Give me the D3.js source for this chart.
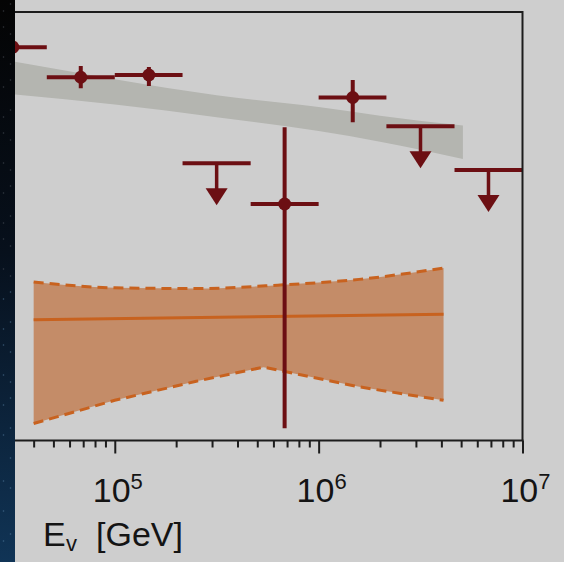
<!DOCTYPE html>
<html>
<head>
<meta charset="utf-8">
<script src="https://cdn.jsdelivr.net/npm/d3@7"></script>
<style>
  html, body { margin: 0; padding: 0; background: #cecece; overflow: hidden; }
  svg { display: block; }
</style>
</head>
<body>
<svg id="chart" width="564" height="562"></svg>
<script>
// Neutrino energy bins (GeV), one third of a decade wide
const binCenters = [3.16e4, 6.81e4, 1.47e5, 3.16e5, 6.81e5, 1.47e6, 3.16e6, 6.81e6];
const binLow     = [2.15e4, 4.64e4, 1.00e5, 2.15e5, 4.64e5, 1.00e6, 2.15e6, 4.64e6];
const binHigh    = [4.64e4, 1.00e5, 2.15e5, 4.64e5, 1.00e6, 2.15e6, 4.64e6, 1.00e7];

// Per-bin E^2 flux, with 1-sigma range; upper limits have no range
const fluxValues   = [6.85e-8, 4.96e-8, 5.08e-8, 1.97e-8, 1.27e-8, 3.99e-8, 2.93e-8, 1.83e-8];
const fluxErrHigh  = [null,    5.60e-8, 5.53e-8, null,    2.90e-8, 4.81e-8, null,    null];
const fluxErrLow   = [null,    4.41e-8, 4.51e-8, null,    1.14e-9, 3.06e-8, null,    null];
const isUpperLimit = [false,   false,   false,   true,    false,   false,   true,    true];

// Power-law best fit band (grey)
const fitEnergy = [3.16e4, 1.00e5, 3.16e5, 1.00e6, 2.00e6, 5.10e6];
const fitUpper  = [5.88e-8, 4.86e-8, 4.09e-8, 3.60e-8, 3.28e-8, 2.95e-8];
const fitLower  = [4.13e-8, 3.70e-8, 3.23e-8, 2.78e-8, 2.48e-8, 2.06e-8];

// Second flux model (orange): central line and uncertainty envelope
const modelCentralEnergy = [4.0e4, 4.1e6];
const modelCentral       = [3.66e-9, 3.88e-9];
const modelUpperEnergy   = [4.0e4, 1.00e5, 2.51e5, 6.31e5, 1.58e6, 4.1e6];
const modelUpper         = [5.49e-9, 5.16e-9, 5.12e-9, 5.31e-9, 5.65e-9, 6.38e-9];
const modelLowerEnergy   = [4.0e4, 1.00e5, 2.51e5, 5.37e5, 1.58e6, 4.1e6];
const modelLower         = [1.20e-9, 1.54e-9, 1.89e-9, 2.20e-9, 1.78e-9, 1.54e-9];

// Axis ticks
const majorTicks = [1e5, 1e6, 1e7];
const majorExponents = ["5", "6", "7"];
const minorTicks = [4e4, 5e4, 6e4, 7e4, 8e4, 9e4,
                    2e5, 3e5, 4e5, 5e5, 6e5, 7e5, 8e5, 9e5,
                    2e6, 3e6, 4e6, 5e6, 6e6, 7e6, 8e6, 9e6];

const axisTitle = { main: "E", sub: "v", unit: "[GeV]" };

// ---------------------------------------------------------------
const plot = { left: 15, right: 522.5, top: 12, bottom: 440.5 };
const colors = {
  point: "#6c0f13",
  fitBand: "#b4b5b0",
  modelFill: "#c48c68",
  modelLine: "#c8621f",
  frame: "#1c1c1c",
  text: "#141414"
};

const svg = d3.select("#chart");

const x = d3.scaleLog().domain([3.24e4, 1e7]).range([plot.left, plot.right]);
const y = d3.scaleLog().domain([1e-9, 1e-7]).range([plot.bottom, plot.top]);

const defs = svg.append("defs");
defs.append("clipPath").attr("id", "plot-clip")
  .append("rect")
  .attr("x", plot.left).attr("y", plot.top)
  .attr("width", plot.right - plot.left)
  .attr("height", plot.bottom - plot.top);

const grad = defs.append("linearGradient").attr("id", "space")
  .attr("x1", 0).attr("y1", 0).attr("x2", 0).attr("y2", 1);
grad.append("stop").attr("offset", "0%").attr("stop-color", "#040404");
grad.append("stop").attr("offset", "45%").attr("stop-color", "#07101c");
grad.append("stop").attr("offset", "100%").attr("stop-color", "#103456");

const g = svg.append("g").attr("clip-path", "url(#plot-clip)");

// Grey best-fit band
const fitPts = fitEnergy.map((e, i) => ({ e, hi: fitUpper[i], lo: fitLower[i] }));
g.append("path")
  .datum(fitPts)
  .attr("fill", colors.fitBand)
  .attr("d", d3.area().x(d => x(d.e)).y0(d => y(d.lo)).y1(d => y(d.hi)).curve(d3.curveMonotoneX));

// Orange model envelope
const upperPts = modelUpperEnergy.map((e, i) => [x(e), y(modelUpper[i])]);
const lowerPts = modelLowerEnergy.map((e, i) => [x(e), y(modelLower[i])]);
const upperLine = d3.line().curve(d3.curveMonotoneX);
const lowerLine = d3.line().curve(d3.curveLinear);
const envelope = upperLine(upperPts) + "L" + lowerLine(lowerPts.slice().reverse()).slice(1) + "Z";

g.append("path").attr("d", envelope).attr("fill", colors.modelFill);

g.append("path").attr("d", upperLine(upperPts))
  .attr("fill", "none").attr("stroke", colors.modelLine)
  .attr("stroke-width", 3).attr("stroke-dasharray", "10,6");
g.append("path").attr("d", lowerLine(lowerPts))
  .attr("fill", "none").attr("stroke", colors.modelLine)
  .attr("stroke-width", 3).attr("stroke-dasharray", "10,6");
g.append("path")
  .attr("d", d3.line()(modelCentralEnergy.map((e, i) => [x(e), y(modelCentral[i])])))
  .attr("fill", "none").attr("stroke", colors.modelLine).attr("stroke-width", 3);

// Data points
const points = binCenters.map((e, i) => ({
  e, lo: binLow[i], hi: binHigh[i], v: fluxValues[i],
  up: fluxErrHigh[i], dn: fluxErrLow[i], ul: isUpperLimit[i]
}));

const pg = g.append("g").attr("stroke", colors.point).attr("fill", colors.point);

pg.selectAll("line.xerr").data(points).join("line")
  .attr("class", "xerr")
  .attr("x1", d => x(d.lo)).attr("x2", d => x(d.hi))
  .attr("y1", d => y(d.v)).attr("y2", d => y(d.v))
  .attr("stroke-width", 4);

const meas = points.filter(d => !d.ul);
pg.selectAll("line.yerr").data(meas.filter(d => d.up !== null)).join("line")
  .attr("class", "yerr")
  .attr("x1", d => x(d.e)).attr("x2", d => x(d.e))
  .attr("y1", d => y(d.up)).attr("y2", d => y(d.dn))
  .attr("stroke-width", 4);
pg.selectAll("circle").data(meas).join("circle")
  .attr("cx", d => x(d.e)).attr("cy", d => y(d.v)).attr("r", 6.5)
  .attr("stroke", "none");

// Upper-limit arrows
const stemLen = 26, headLen = 17, headHalf = 11;
const limits = points.filter(d => d.ul);
pg.selectAll("line.stem").data(limits).join("line")
  .attr("class", "stem")
  .attr("x1", d => x(d.e)).attr("x2", d => x(d.e))
  .attr("y1", d => y(d.v)).attr("y2", d => y(d.v) + stemLen)
  .attr("stroke-width", 3.5);
pg.selectAll("path.head").data(limits).join("path")
  .attr("class", "head")
  .attr("stroke", "none")
  .attr("d", d => {
    const cx = x(d.e), top = y(d.v) + stemLen - 1;
    return `M${cx - headHalf},${top}L${cx + headHalf},${top}L${cx},${top + headLen}Z`;
  });

// Frame and axis
const frame = svg.append("g").attr("stroke", colors.frame).attr("fill", "none");
frame.append("path")
  .attr("d", `M0,${plot.top}H${plot.right}V${plot.bottom}`)
  .attr("stroke-width", 2);

const axisG = svg.append("g").attr("transform", `translate(0,${plot.bottom})`);
axisG.append("line")
  .attr("x1", 0).attr("x2", plot.right + 1)
  .attr("stroke", colors.frame).attr("stroke-width", 2);

const minorAxis = d3.axisBottom(x).tickValues(minorTicks).tickSize(7).tickSizeOuter(0).tickFormat("");
const majorAxis = d3.axisBottom(x).tickValues(majorTicks).tickSize(13).tickSizeOuter(0).tickFormat("");
const minorG = axisG.append("g").call(minorAxis);
const majorG = axisG.append("g").call(majorAxis);
[minorG, majorG].forEach(sel => {
  sel.select(".domain").remove();
  sel.selectAll(".tick line").attr("stroke", colors.frame).attr("stroke-width", 2);
});

// Tick labels 10^n
const labels = svg.append("g")
  .attr("font-family", "'Liberation Sans', Arial, sans-serif")
  .attr("fill", colors.text);
majorTicks.forEach((t, i) => {
  const txt = labels.append("text")
    .attr("x", x(t) + 3).attr("y", 502)
    .attr("text-anchor", "middle")
    .attr("font-size", 34);
  txt.append("tspan").text("10");
  txt.append("tspan").attr("font-size", 22).attr("dy", -13).text(majorExponents[i]);
});

// Axis title
const title = labels.append("text").attr("y", 546).attr("font-size", 34);
title.append("tspan").attr("x", 43).text(axisTitle.main);
title.append("tspan").attr("x", 66).attr("dy", 5).attr("font-size", 22).text(axisTitle.sub);
title.append("tspan").attr("x", 96).attr("dy", -5).text(axisTitle.unit);

// Background strip on the left edge
const strip = svg.append("g");
strip.append("rect").attr("x", 0).attr("y", 0).attr("width", plot.left).attr("height", 562)
  .attr("fill", "url(#space)");
const specks = d3.range(40).map(i => ({ sx: (i * 7 + 3) % 14 + 0.5, sy: (i * 53 + 11) % 560 }));
strip.selectAll("circle").data(specks).join("circle")
  .attr("cx", d => d.sx).attr("cy", d => d.sy)
  .attr("r", 0.8)
  .attr("fill", d => d.sy > 280 ? "#5d86ad" : "#5a5f66")
  .attr("opacity", 0.55);
</script>
</body>
</html>
